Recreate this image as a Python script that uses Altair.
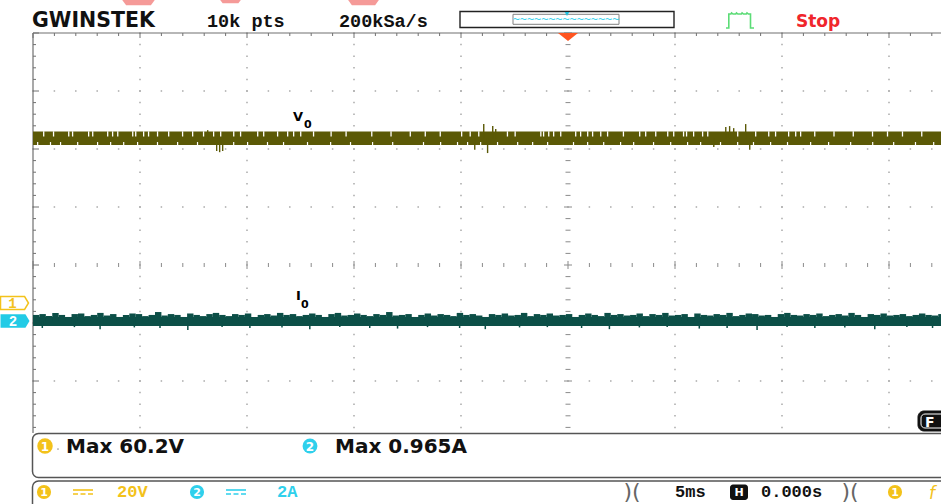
import altair as alt
import numpy as np
import pandas as pd

# ---------------- scope settings ----------------
TIME_PER_DIV = 5.0      # ms/div  ("5ms")
CH1_SCALE = 20.0        # V/div   ("20V")
CH2_SCALE = 2.0         # A/div   ("2A")
CH1_OFFSET = -0.655     # div, ground marker "1"
CH2_OFFSET = -0.966     # div, ground marker "2"

# ---------------- V0 trace (channel 1, volts) ----------------
V0_LOW, V0_HIGH = 54.5, 59.1
V0_SPLIT = 57.4          # boundary between the two rows of the noisy band
v0_spike_t = [-16.87, -16.45, -16.31, -16.17, -4.39, -3.97, -3.79, -3.55, -3.41,
              6.78, 7.34, 7.52, 7.71, 8.27, 8.46]
v0_spike_v = [59.6, 52.4, 52.0, 52.4, 52.8, 61.7, 51.7, 61.0, 60.0,
              53.8, 60.7, 61.0, 60.3, 61.7, 52.8]
# short dropouts in the upper row of the band
v0_gap_t = [-24.53, -24.07, -23.36, -23.18, -22.43, -22.24, -21.54, -21.31, -21.07,
            -20.37, -20.23, -19.86, -19.63, -19.21, -18.69, -18.04, -17.57, -17.06,
            -16.59, -16.26, -15.65, -15.33, -14.53, -14.25, -13.60, -13.13, -12.85,
            -12.52, -11.92, -11.1, -10.4, -9.2, -8.3, -7.4, -6.7, -6.0, -5.0, -4.6,
            -4.2, -2.86, -2.5, -1.3, -1.17, -0.93, -0.70, -0.37, 0.33, 0.56, 0.89,
            1.12, 1.50, 1.82, 2.56, 3.32, 3.60, 4.07, 4.63, 4.91, 5.37, 5.51, 5.84,
            6.26, 6.50, 7.9, 8.74, 9.35, 9.67, 10.28, 10.61, 10.84, 11.5, 12.4,
            13.3, 14.2, 14.9, 15.6, 16.5]
# small dropouts on the lower edge of the band
v0_notch_t = [-24.81, -24.21, -23.74, -22.94, -22.01, -21.40, -20.79, -20.14, -19.21,
              -18.27, -17.34, -15.65, -15.00, -14.07, -13.32, -12.20, -11.12, -10.19,
              -9.16, -8.22, -6.78, -5.98, -5.19, -4.72, -4.11, -3.32, -2.38, -1.68,
              -0.98, 0.23, 0.89, 1.64, 2.43, 3.04, 3.97, 4.77, 5.56, 6.17, 7.10, 7.90,
              8.64, 9.44, 10.23, 11.31, 12.15, 13.18, 14.21, 15.19, 16.21, 17.06]

# ---------------- I0 trace (channel 2, amps) ----------------
I0_LOW, I0_HIGH = -0.17, 0.14
I0_STEP = 0.3            # ms between successive top-edge readings
i0_top = [0.21, 0.24, 0.17, 0.28, 0.21, 0.14, 0.24, 0.26, 0.17, 0.21,
          0.28, 0.19, 0.24, 0.14, 0.21, 0.26, 0.24, 0.17, 0.21, 0.31,
          0.19, 0.24, 0.21, 0.14, 0.26, 0.21, 0.17, 0.24, 0.28, 0.21,
          0.17, 0.24, 0.21, 0.26, 0.14, 0.21, 0.24, 0.19, 0.28, 0.21,
          0.24, 0.17, 0.21, 0.26, 0.21, 0.14, 0.24, 0.28, 0.19, 0.21,
          0.26, 0.21, 0.17, 0.24, 0.21, 0.31, 0.19, 0.21, 0.24, 0.14,
          0.21, 0.26, 0.19, 0.24, 0.21, 0.17, 0.28, 0.21, 0.24, 0.19,
          0.14, 0.24, 0.21, 0.26, 0.19, 0.21, 0.28, 0.17, 0.24, 0.21,
          0.26, 0.19, 0.21, 0.24, 0.14, 0.21, 0.26, 0.21, 0.17, 0.28,
          0.21, 0.24, 0.19, 0.21, 0.26, 0.17, 0.24, 0.21, 0.28, 0.19,
          0.21, 0.24, 0.14, 0.26, 0.21, 0.19, 0.24, 0.21, 0.28, 0.17,
          0.21, 0.26, 0.24, 0.19, 0.21, 0.14, 0.24, 0.28, 0.21, 0.19,
          0.24, 0.21, 0.26, 0.17, 0.21, 0.24, 0.19, 0.28, 0.21, 0.14,
          0.24, 0.21, 0.26, 0.19, 0.21, 0.24, 0.17, 0.21, 0.26, 0.21,
          0.19, 0.24]
i0_dip_t = [-24.6, -23.1, -21.9, -20.3, -19.1, -17.8, -16.2, -14.9, -13.4, -12.1,
            -10.7, -9.3, -8.0, -6.6, -5.1, -3.9, -2.3, -1.0, 0.6, 1.9,
            3.3, 4.6, 6.1, 7.4, 8.8, 10.2, 11.5, 12.9, 14.3, 15.8, 17.0]
i0_dip_lo = [-0.24, -0.21, -0.28, -0.22, -0.24, -0.31, -0.21, -0.24, -0.22, -0.28,
             -0.21, -0.24, -0.26, -0.21, -0.24, -0.28, -0.22, -0.21, -0.24, -0.28,
             -0.22, -0.21, -0.26, -0.24, -0.31, -0.21, -0.24, -0.22, -0.28, -0.21, -0.24]

# ---------------- screen text ----------------
MEAS1 = "Max 60.2V"
MEAS2 = "Max 0.965A"

# ---------------- screen geometry helpers ----------------
W, H = 941, 504
CX, CY = 568, 265          # screen centre (pixels)
DIVX, DIVY = 107, 58       # pixels per division


def T(px):
    return (np.asarray(px, dtype=float) - CX) / DIVX * TIME_PER_DIV


def D(py):
    return (CY - np.asarray(py, dtype=float)) / DIVY


XS = alt.Scale(domain=[float(T(0)), float(T(W))], nice=False, zero=False)
YS = alt.Scale(domain=[float(D(H)), float(D(0))], nice=False, zero=False)
PXT = TIME_PER_DIV / DIVX   # ms per pixel
PXD = 1.0 / DIVY            # div per pixel


def X(f="x"):
    return alt.X(f"{f}:Q", scale=XS, axis=None)


def Y(f="y"):
    return alt.Y(f"{f}:Q", scale=YS, axis=None)


def ch1(v):
    return np.asarray(v, dtype=float) / CH1_SCALE + CH1_OFFSET


def ch2(a):
    return np.asarray(a, dtype=float) / CH2_SCALE + CH2_OFFSET


def rects(df, **kw):
    return alt.Chart(df).mark_rect(**kw).encode(x=X(), x2="x2:Q", y=Y(), y2="y2:Q")


layers = []

# ---------------- graticule ----------------
minor_t = np.round(np.arange(-25, 25.01, 1.0), 3)
minor_d = np.round(np.arange(-4, 4.01, 0.2), 3)
major_t = np.arange(-25, 25.01, 5.0)
major_d = np.arange(-4, 4.01, 1.0)
dots = []
for d in major_d:
    if d in (0, 4):
        continue
    for t in minor_t:
        dots.append((t, d))
for t in major_t:
    if t in (-25, 0):
        continue
    for d in minor_d:
        dots.append((t, d))
dots_df = pd.DataFrame(dots, columns=["x", "y"])
layers.append(alt.Chart(dots_df).mark_square(size=2.2, color="#a8a8a8", opacity=1)
              .encode(x=X(), y=Y()))

rules = []
for d in minor_d:
    hl = (4 if abs(d - round(d)) < 1e-6 else 2.5) * PXT
    rules.append((-hl, hl, d, d, "#8a8a8a", 1))
for t in minor_t:
    hl = (4 if t % 5 == 0 else 2) * PXD
    rules.append((t, t, -hl, hl, "#8a8a8a", 1))
rules.append((-25, float(T(W)), 4, 4, "#707070", 1.2))
rules.append((-25, -25, 4, float(D(433)), "#707070", 1.2))
for t in minor_t:
    ln = (5 if t % 5 == 0 else 3) * PXD
    rules.append((t, t, 4, 4 - ln, "#707070", 1))
for d in minor_d:
    ln = (6 if abs(d - round(d)) < 1e-6 else 3) * PXT
    rules.append((-25, -25 + ln, d, d, "#707070", 1))
rules_df = pd.DataFrame(rules, columns=["x", "x2", "y", "y2", "c", "w"])
layers.append(alt.Chart(rules_df).mark_rule().encode(
    x=X(), x2="x2:Q", y=Y(), y2="y2:Q",
    color=alt.Color("c:N", scale=None), strokeWidth=alt.StrokeWidth("w:Q", scale=None)))

# ---------------- traces ----------------
T_END = float(T(W)) + 1
V0_COL = "#5b5906"
I0_COL = "#0c4f47"

# V0 band, spikes and dropouts
layers.append(rects(pd.DataFrame({"x": [-25.0], "x2": [T_END],
                                  "y": ch1([V0_LOW]), "y2": ch1([V0_HIGH])}), color=V0_COL))
v0_mid = (V0_LOW + V0_HIGH) / 2
layers.append(rects(pd.DataFrame({"x": v0_spike_t, "x2": np.array(v0_spike_t) + 1.4 * PXT,
                                  "y": ch1(v0_mid), "y2": ch1(v0_spike_v)}), color=V0_COL))
layers.append(rects(pd.DataFrame({"x": v0_gap_t, "x2": np.array(v0_gap_t) + 1.3 * PXT,
                                  "y": ch1(V0_SPLIT), "y2": ch1(V0_HIGH + 0.1)}),
                    color="white"))
layers.append(rects(pd.DataFrame({"x": v0_notch_t, "x2": np.array(v0_notch_t) + 1.2 * PXT,
                                  "y": ch1(V0_LOW - 0.1), "y2": ch1(V0_LOW + 1.0)}),
                    color="white"))

# I0 band, skyline top edge and dips
layers.append(rects(pd.DataFrame({"x": [-25.0], "x2": [T_END],
                                  "y": ch2([I0_LOW]), "y2": ch2([I0_HIGH])}), color=I0_COL))
top_t = -25.0 + I0_STEP * np.arange(len(i0_top))
layers.append(rects(pd.DataFrame({"x": top_t, "x2": top_t + I0_STEP,
                                  "y": ch2(0.0), "y2": ch2(i0_top)}), color=I0_COL))
layers.append(rects(pd.DataFrame({"x": i0_dip_t, "x2": np.array(i0_dip_t) + 1.5 * PXT,
                                  "y": ch2(0.0), "y2": ch2(i0_dip_lo)}), color=I0_COL))


# ---------------- helpers for screen furniture ----------------
def text_layer(rows, **kw):
    df = pd.DataFrame(rows, columns=["px", "py", "text"])
    df["x"] = T(df.px)
    df["y"] = D(df.py)
    opts = dict(align="left", baseline="alphabetic")
    opts.update(kw)
    return alt.Chart(df).mark_text(**opts).encode(x=X(), y=Y(), text="text:N")


def rect_layer(rows, **kw):
    df = pd.DataFrame(rows, columns=["px", "px2", "py", "py2"])
    df["x"] = T(df.px)
    df["x2"] = T(df.px2)
    df["y"] = D(df.py)
    df["y2"] = D(df.py2)
    return rects(df, **kw)


def point_layer(rows, **kw):
    df = pd.DataFrame(rows, columns=["px", "py"])
    df["x"] = T(df.px)
    df["y"] = D(df.py)
    return alt.Chart(df).mark_point(**kw).encode(x=X(), y=Y())


def rule_layer(rows, **kw):
    df = pd.DataFrame(rows, columns=["px", "px2", "py", "py2"])
    df["x"] = T(df.px)
    df["x2"] = T(df.px2)
    df["y"] = D(df.py)
    df["y2"] = D(df.py2)
    return alt.Chart(df).mark_rule(**kw).encode(x=X(), x2="x2:Q", y=Y(), y2="y2:Q")


# trace labels
layers.append(text_layer([(293, 121, "V"), (296, 300, "I")], font="DejaVu Sans",
                         fontSize=13, fontWeight="bold", color="black"))
layers.append(text_layer([(304, 128, "0"), (301, 308, "0")], font="DejaVu Sans",
                         fontSize=11, fontWeight="bold", color="black"))

# channel ground markers
pent = "M-1,-0.46 L0.72,-0.46 L1,0 L0.72,0.46 L-1,0.46 Z"
layers.append(point_layer([(14.5, 303)], shape=pent, size=28 ** 2, filled=True,
                          fill="white", stroke="#f3c21b", strokeWidth=1.5, opacity=1))
layers.append(point_layer([(15, 321)], shape=pent, size=29 ** 2, filled=True,
                          fill="#22cbe6", strokeWidth=0, opacity=1))
layers.append(text_layer([(12.5, 303.5, "1")], font="Liberation Mono", fontSize=14,
                         fontWeight="bold", color="#f3c21b", align="center", baseline="middle"))
layers.append(text_layer([(13, 321.5, "2")], font="Liberation Mono", fontSize=14,
                         fontWeight="bold", color="white", align="center", baseline="middle"))

# ---------------- header ----------------
trap = "M-1,-0.17 L1,-0.17 L0.75,0.17 L-0.75,0.17 Z"
layers.append(point_layer([(138.5, 2.5)], shape=trap, size=33 ** 2, filled=True,
                          fill="#f59a98", strokeWidth=0, opacity=1))
layers.append(point_layer([(230.5, 1.5)], shape=trap, size=21 ** 2, filled=True,
                          fill="#f59a98", strokeWidth=0, opacity=1))
layers.append(point_layer([(363.5, 2.5)], shape=trap, size=31 ** 2, filled=True,
                          fill="#f59a98", strokeWidth=0, opacity=1))
layers.append(text_layer([(32, 27, "GWINSTEK")], font="DejaVu Sans", fontSize=20.5,
                         fontWeight="bold", color="#111111"))
layers.append(text_layer([(207, 27, "10k pts"), (339, 27, "200kSa/s")],
                         font="Liberation Mono", fontSize=18.5, fontWeight="bold", color="#111111"))
layers.append(rect_layer([(460, 674, 11.5, 27.5)], fill="white", stroke="#222222",
                         strokeWidth=1.4))
layers.append(rect_layer([(513, 619, 14.3, 24.3)], fill="white", stroke="#808080",
                         strokeWidth=1))
layers.append(text_layer([(566, 23, "~~~~~~~~~~~~~~~")], font="DejaVu Sans Mono",
                         fontSize=11.8, color="#3fd4ee", align="center"))
layers.append(point_layer([(567, 14)], shape="triangle-down", size=22, filled=True,
                          fill="#22c0dd", strokeWidth=0, opacity=1))
pulse = ("M-1,0.5 L-0.8,0.5 L-0.8,-0.5 L-0.65,-0.5 L-0.6,-0.58 L-0.5,-0.5 L-0.3,-0.5 "
         "L-0.25,-0.58 L-0.15,-0.5 L0.1,-0.5 L0.15,-0.58 L0.25,-0.5 L0.45,-0.5 "
         "L0.5,-0.58 L0.6,-0.5 L0.75,-0.5 L0.75,0.5 L1,0.5")
layers.append(point_layer([(740, 21)], shape=pulse, size=28 ** 2, filled=False,
                          stroke="#5bdc76", strokeWidth=1.6, opacity=1))
layers.append(text_layer([(796, 26.5, "Stop")], font="DejaVu Sans", fontSize=17,
                         fontWeight="bold", color="#f0262c"))
tri = "M-1,-0.4 L1,-0.4 L0,0.4 Z"
layers.append(point_layer([(568, 37)], shape=tri, size=20 ** 2, filled=True,
                          fill="#ff5520", strokeWidth=0, opacity=1))

# ---------------- measurement box ----------------
layers.append(rect_layer([(32.5, 990, 433.5, 477.5)], fill="white", stroke="#555555",
                         strokeWidth=1.5, cornerRadius=6, clip=True))
layers.append(point_layer([(45, 446)], shape="circle", size=240, filled=True,
                          strokeWidth=0, opacity=1, fill="#f3c21b"))
layers.append(point_layer([(310, 446)], shape="circle", size=220, filled=True,
                          strokeWidth=0, opacity=1, fill="#2fd0ec"))
layers.append(text_layer([(45, 446.5, "1"), (310, 446.5, "2")], font="DejaVu Sans",
                         fontSize=12, fontWeight="bold", color="white", align="center",
                         baseline="middle"))
layers.append(point_layer([(58, 449)], shape="circle", size=3, filled=True,
                          fill="#999999", strokeWidth=0, opacity=1))
layers.append(text_layer([(66, 452.5, MEAS1), (335, 452.5, MEAS2)], font="DejaVu Sans",
                         fontSize=20, fontWeight="bold", color="#111111"))

# ---------------- status bar ----------------
layers.append(rect_layer([(32.5, 990, 481, 515)], fill="white", stroke="#555555",
                         strokeWidth=1.5, cornerRadius=6, clip=True))
layers.append(point_layer([(44, 492), (895, 492)], shape="circle", size=200, filled=True,
                          strokeWidth=0, opacity=1, fill="#f3c21b"))
layers.append(point_layer([(197, 492)], shape="circle", size=200, filled=True,
                          strokeWidth=0, opacity=1, fill="#2fd0ec"))
layers.append(text_layer([(44, 492.5, "1"), (197, 492.5, "2"), (895, 492.5, "1")],
                         font="DejaVu Sans", fontSize=11, fontWeight="bold", color="white",
                         align="center", baseline="middle"))
layers.append(rule_layer([(73, 93, 490, 490)], strokeWidth=1.6, color="#f3c21b"))
layers.append(rule_layer([(73, 93, 494, 494)], strokeWidth=1.6, color="#f3c21b",
                         strokeDash=[5, 2.5]))
layers.append(rule_layer([(226, 246, 490, 490)], strokeWidth=1.6, color="#2fd0ec"))
layers.append(rule_layer([(226, 246, 494, 494)], strokeWidth=1.6, color="#2fd0ec",
                         strokeDash=[5, 2.5]))
layers.append(text_layer([(117, 497, "20V")], font="Liberation Mono", fontSize=17,
                         fontWeight="bold", color="#f3c21b"))
layers.append(text_layer([(277, 497, "2A")], font="Liberation Mono", fontSize=17,
                         fontWeight="bold", color="#2fd0ec"))
layers.append(text_layer([(675, 497, "5ms"), (761, 497, "0.000s")], font="Liberation Mono",
                         fontSize=17, fontWeight="bold", color="#111111"))
layers.append(rect_layer([(730, 748, 484.5, 500)], fill="#111111", cornerRadius=3))
layers.append(text_layer([(739, 492.5, "H")], font="DejaVu Sans", fontSize=11,
                         fontWeight="bold", color="white", align="center", baseline="middle"))
layers.append(text_layer([(632, 499, ")("), (850, 499, ")(")], font="DejaVu Sans",
                         fontSize=22, color="#666666", align="center"))
layers.append(text_layer([(929, 499, "f")], font="DejaVu Sans", fontSize=17,
                         fontStyle="italic", color="#f3c21b"))

# ---------------- "F" badge ----------------
layers.append(rect_layer([(918, 990, 411, 431)], fill="#111111", stroke="#111111",
                         strokeWidth=1, cornerRadius=6, clip=True))
layers.append(rect_layer([(921, 990, 414, 428)], fill="#111111", stroke="white",
                         strokeWidth=1, cornerRadius=4, clip=True))
layers.append(text_layer([(925, 427, "F")], font="DejaVu Sans", fontSize=14,
                         fontWeight="bold", color="white"))

chart = alt.layer(*layers).properties(
    width=W, height=H, padding=0, autosize="none", background="white"
).configure_view(stroke=None)

chart.save("out.html", embed_options={"renderer": "svg", "actions": False})
